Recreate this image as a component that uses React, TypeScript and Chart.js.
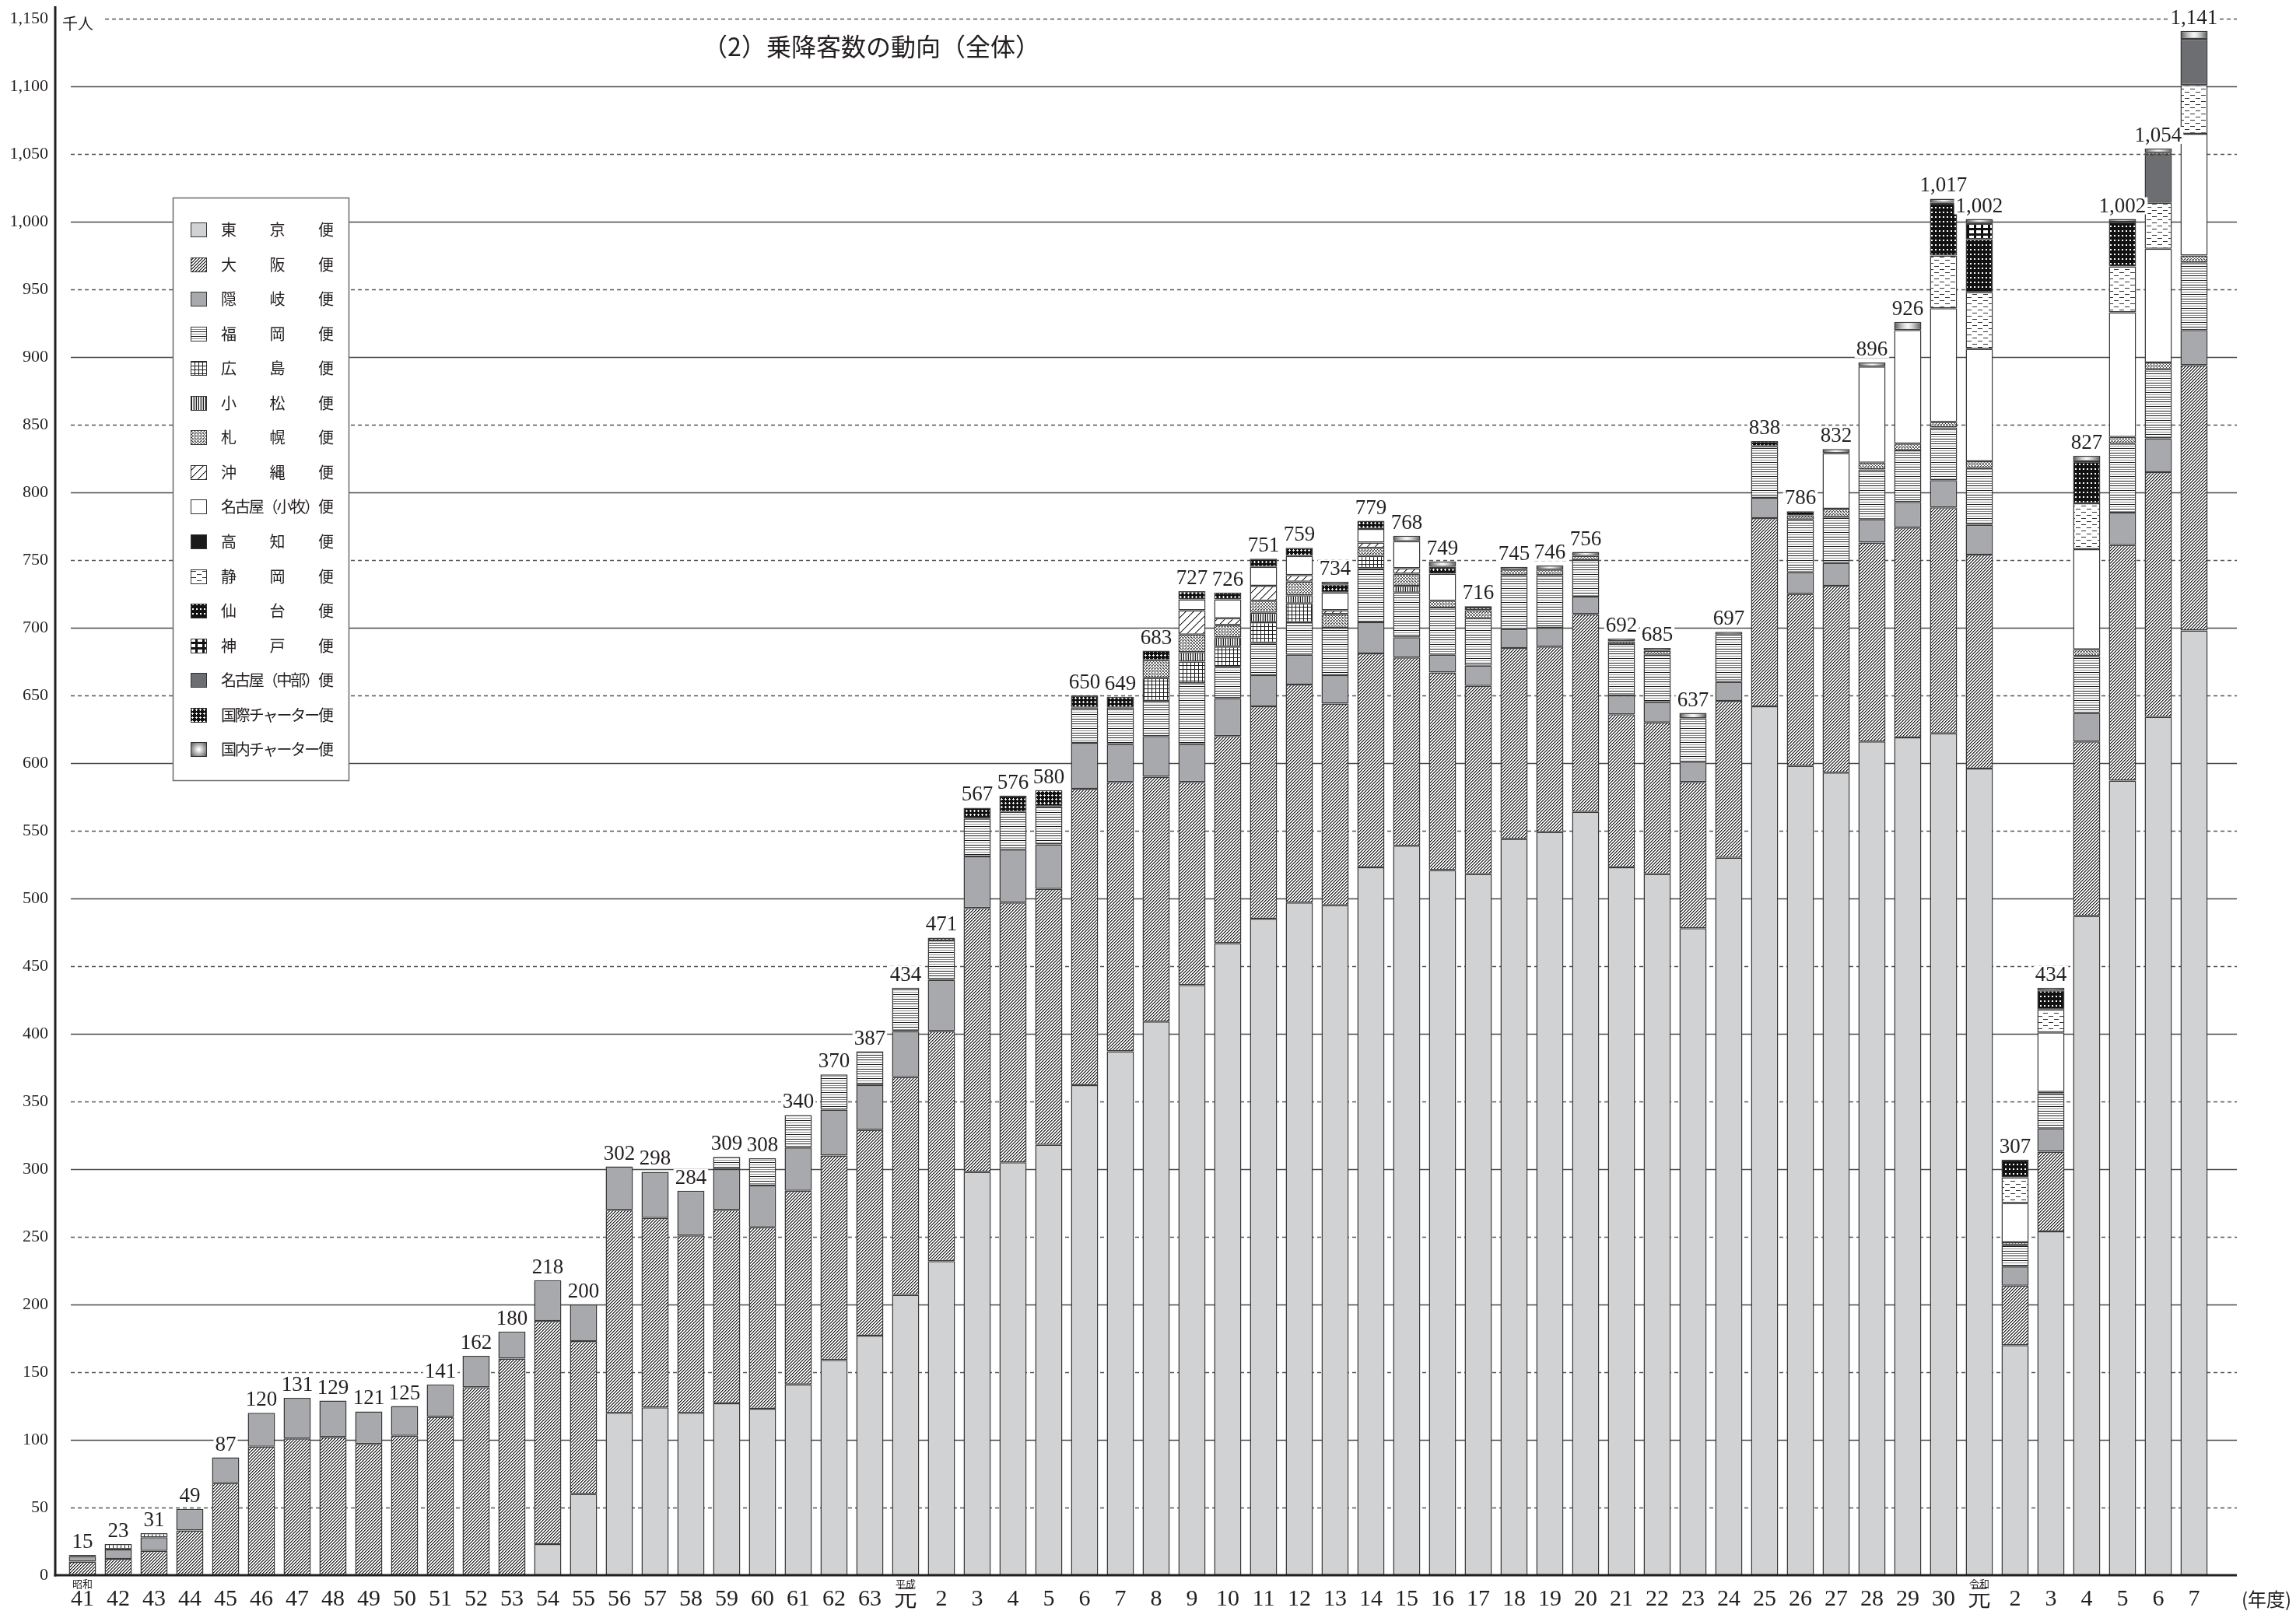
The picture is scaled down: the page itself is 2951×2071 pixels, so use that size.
import React, { useEffect, useRef } from 'react';
import { Chart, registerables } from 'chart.js';

Chart.register(...registerables);

// ---------------- data ----------------
// fiscal years: 昭和41–63, 平成元–30, 令和元–7
const categories: string[] = [
  '41', '42', '43', '44', '45', '46', '47', '48', '49', '50', '51', '52', '53', '54', '55', '56', '57', '58', '59', '60', '61', '62', '63',
  '元', '2', '3', '4', '5', '6', '7', '8', '9', '10', '11', '12', '13', '14', '15', '16', '17', '18', '19', '20', '21', '22', '23', '24', '25', '26', '27', '28', '29', '30',
  '元', '2', '3', '4', '5', '6', '7',
];
const eraMarks = [
  { index: 0, text: '昭和' },
  { index: 23, text: '平成' },
  { index: 53, text: '令和' },
];
const totals = [
  15, 23, 31, 49, 87, 120, 131, 129, 121, 125, 141, 162, 180, 218, 200, 302, 298, 284, 309, 308, 340, 370, 387,
  434, 471, 567, 576, 580, 650, 649, 683, 727, 726, 751, 759, 734, 779, 768, 749, 716, 745, 746, 756, 692, 685, 637, 697, 838, 786, 832, 896, 926, 1017,
  1002, 307, 434, 827, 1002, 1054, 1141,
];
const seriesNames = [
  '東京便', '大阪便', '隠岐便', '福岡便', '広島便', '小松便', '札幌便', '沖縄便',
  '名古屋（小牧）便', '高知便', '静岡便', '仙台便', '神戸便', '名古屋（中部）便', '国際チャーター便', '国内チャーター便',
];
const tokyo = [
  0, 0, 0, 0, 0, 0, 0, 0, 0, 0, 0, 0, 0, 23, 60, 120, 124, 120, 127, 123, 141, 159, 177,
  207, 232, 298, 305, 318, 362, 387, 409, 436, 467, 485, 497, 495, 523, 539, 521, 518, 544, 549, 564, 523, 518, 478, 530, 642, 598, 593, 616, 619, 622,
  596, 170, 254, 487, 587, 634, 698,
];
const osaka = [
  10, 12, 18, 33, 68, 95, 101, 102, 97, 103, 117, 139, 160, 165, 113, 150, 140, 131, 143, 134, 143, 151, 152,
  161, 170, 195, 192, 189, 219, 199, 181, 150, 153, 157, 161, 149, 158, 139, 146, 139, 141, 137, 146, 113, 112, 108, 116, 139, 127, 138, 147, 155, 167,
  158, 44, 59, 129, 174, 181, 196,
];
const oki = [
  4, 7, 10, 16, 19, 25, 30, 27, 24, 22, 24, 23, 20, 30, 27, 32, 34, 33, 30, 31, 32, 34, 33,
  34, 38, 38, 39, 33, 34, 28, 30, 28, 28, 23, 22, 21, 23, 15, 13, 15, 14, 14, 13, 14, 15, 15, 14, 15, 16, 17, 17, 19, 20,
  22, 14, 17, 21, 24, 25, 26,
];
const fukuoka = [
  0, 0, 0, 0, 0, 0, 0, 0, 0, 0, 0, 0, 0, 0, 0, 0, 0, 0, 9, 20, 24, 26, 25,
  32, 29, 28, 28, 28, 26, 27, 26, 45, 23, 24, 24, 35, 40, 33, 35, 35, 40, 39, 27, 38, 35, 32, 35, 38, 39, 34, 37, 38, 39,
  42, 16, 26, 42, 51, 51, 50,
];
const hiroshima = [
  1, 4, 3, 0, 0, 0, 0, 0, 0, 0, 0, 0, 0, 0, 0, 0, 0, 0, 0, 0, 0, 0, 0,
  0, 0, 0, 0, 0, 0, 0, 17, 16, 15, 15, 14, 0, 9, 0, 0, 0, 0, 0, 0, 0, 0, 0, 0, 0, 0, 0, 0, 0, 0,
  0, 0, 0, 0, 0, 0, 0,
];
const komatsu = [
  0, 0, 0, 0, 0, 0, 0, 0, 0, 0, 0, 0, 0, 0, 0, 0, 0, 0, 0, 0, 0, 0, 0,
  0, 0, 0, 0, 0, 0, 0, 0, 7, 7, 7, 6, 0, 0, 5, 0, 0, 0, 0, 0, 0, 0, 0, 0, 0, 0, 0, 0, 0, 0,
  0, 0, 0, 0, 0, 0, 0,
];
const sapporo = [
  0, 0, 0, 0, 0, 0, 0, 0, 0, 0, 0, 0, 0, 0, 0, 0, 0, 0, 0, 0, 0, 0, 0,
  0, 0, 0, 0, 0, 0, 0, 13, 13, 9, 9, 10, 10, 6, 9, 5, 6, 4, 4, 3, 2, 3, 0, 0, 0, 3, 6, 5, 5, 4,
  5, 2, 1, 5, 5, 5, 5,
];
const okinawa = [
  0, 0, 0, 0, 0, 0, 0, 0, 0, 0, 0, 0, 0, 0, 0, 0, 0, 0, 0, 0, 0, 0, 0,
  0, 0, 0, 0, 0, 0, 0, 0, 18, 5, 11, 5, 3, 4, 4, 0, 0, 0, 0, 0, 0, 0, 0, 0, 0, 0, 0, 0, 0, 0,
  0, 0, 0, 0, 0, 0, 0,
];
const nagoyaKomaki = [
  0, 0, 0, 0, 0, 0, 0, 0, 0, 0, 0, 0, 0, 0, 0, 0, 0, 0, 0, 0, 0, 0, 0,
  0, 0, 0, 0, 0, 0, 0, 0, 8, 14, 14, 14, 13, 10, 20, 20, 0, 0, 0, 0, 0, 0, 0, 0, 0, 0, 41, 71, 84, 84,
  83, 29, 44, 74, 92, 84, 90,
];
const kochi = [
  0, 0, 0, 0, 0, 0, 0, 0, 0, 0, 0, 0, 0, 0, 0, 0, 0, 0, 0, 0, 0, 0, 0,
  0, 0, 0, 0, 0, 0, 0, 0, 0, 0, 0, 0, 0, 0, 0, 0, 0, 0, 0, 0, 0, 0, 0, 0, 0, 0, 0, 0, 0, 0,
  0, 0, 0, 0, 0, 0, 0,
];
const shizuoka = [
  0, 0, 0, 0, 0, 0, 0, 0, 0, 0, 0, 0, 0, 0, 0, 0, 0, 0, 0, 0, 0, 0, 0,
  0, 0, 0, 0, 0, 0, 0, 0, 0, 0, 0, 0, 0, 0, 0, 0, 0, 0, 0, 0, 0, 0, 0, 0, 0, 0, 0, 0, 0, 39,
  42, 19, 17, 34, 34, 34, 36,
];
const sendai = [
  0, 0, 0, 0, 0, 0, 0, 0, 0, 0, 0, 0, 0, 0, 0, 0, 0, 0, 0, 0, 0, 0, 0,
  0, 0, 0, 0, 0, 0, 0, 0, 0, 0, 0, 0, 0, 0, 0, 0, 0, 0, 0, 0, 0, 0, 0, 0, 0, 0, 0, 0, 0, 39,
  39, 13, 14, 31, 33, 0, 0,
];
const kobe = [
  0, 0, 0, 0, 0, 0, 0, 0, 0, 0, 0, 0, 0, 0, 0, 0, 0, 0, 0, 0, 0, 0, 0,
  0, 0, 0, 0, 0, 0, 0, 0, 0, 0, 0, 0, 0, 0, 0, 0, 0, 0, 0, 0, 0, 0, 0, 0, 0, 0, 0, 0, 0, 0,
  12, 0, 0, 0, 0, 0, 0,
];
const nagoyaChubu = [
  0, 0, 0, 0, 0, 0, 0, 0, 0, 0, 0, 0, 0, 0, 0, 0, 0, 0, 0, 0, 0, 0, 0,
  0, 0, 0, 0, 0, 0, 0, 0, 0, 0, 0, 0, 0, 0, 0, 0, 0, 0, 0, 0, 0, 0, 0, 0, 0, 0, 0, 0, 0, 0,
  0, 0, 0, 0, 0, 35, 34,
];
const intlCharter = [
  0, 0, 0, 0, 0, 0, 0, 0, 0, 0, 0, 0, 0, 0, 0, 0, 0, 0, 0, 0, 0, 0, 0,
  0, 2, 8, 12, 12, 9, 8, 7, 6, 5, 6, 6, 6, 6, 0, 5, 2, 0, 0, 0, 0, 0, 0, 0, 4, 3, 0, 0, 0, 0,
  0, 0, 0, 0, 0, 2, 0,
];
const domCharter = [
  0, 0, 0, 0, 0, 0, 0, 0, 0, 0, 0, 0, 0, 0, 0, 0, 0, 0, 0, 0, 0, 0, 0,
  0, 0, 0, 0, 0, 0, 0, 0, 0, 0, 0, 0, 2, 0, 4, 4, 1, 2, 3, 3, 2, 2, 4, 2, 0, 0, 3, 3, 6, 3,
  3, 0, 2, 4, 2, 3, 6,
];
const seriesData = [
  tokyo, osaka, oki, fukuoka, hiroshima, komatsu, sapporo, okinawa,
  nagoyaKomaki, kochi, shizuoka, sendai, kobe, nagoyaChubu, intlCharter, domCharter,
];

const Y_MAX = 1150;
const Y_STEP = 50;
const X_MIN = -0.76;
const X_MAX = 60.1965;

// ---------------- layout / style ----------------
const W = 2951;
const H = 2071;
const PLOT_LEFT = 71;
const PLOT_RIGHT = 2875;
const PLOT_TOP = 24;
const PLOT_BOTTOM = 2025;
const INK = '#231f20';
const NUM_FONT = "'Liberation Serif', 'DejaVu Serif', serif";
const JP_FONT = "'Noto Sans CJK JP', 'Noto Sans', sans-serif";

function tile(w: number, h: number, draw: (g: CanvasRenderingContext2D) => void): HTMLCanvasElement {
  const c = document.createElement('canvas');
  c.width = w;
  c.height = h;
  const g = c.getContext('2d') as CanvasRenderingContext2D;
  draw(g);
  return c;
}

function buildFills(ctx: CanvasRenderingContext2D): (string | CanvasPattern)[] {
  const pat = (c: HTMLCanvasElement) => ctx.createPattern(c, 'repeat') as CanvasPattern;
  const dark = '#1c1c1c';
  const osakaT = tile(4, 4, (g) => {
    g.fillStyle = '#fff'; g.fillRect(0, 0, 4, 4);
    for (let x = 0; x < 4; x++) for (let y = 0; y < 4; y++) {
      const s = (x + y) % 4;
      if (s === 3) { g.fillStyle = dark; g.fillRect(x, y, 1, 1); }
      else if (s === 0) { g.fillStyle = '#7a7a7a'; g.fillRect(x, y, 1, 1); }
    }
  });
  const fukuokaT = tile(1, 6, (g) => {
    g.fillStyle = '#fff'; g.fillRect(0, 0, 1, 6);
    g.fillStyle = dark; g.fillRect(0, 0, 1, 1);
    g.fillStyle = '#8c8c8c'; g.fillRect(0, 3, 1, 1);
  });
  const hiroshimaT = tile(5, 5, (g) => {
    g.fillStyle = '#fff'; g.fillRect(0, 0, 5, 5);
    g.fillStyle = dark; g.fillRect(0, 0, 5, 1); g.fillRect(0, 0, 1, 5);
  });
  const komatsuT = tile(3, 1, (g) => {
    g.fillStyle = '#fff'; g.fillRect(0, 0, 3, 1);
    g.fillStyle = dark; g.fillRect(0, 0, 1, 1);
    g.fillStyle = '#b0b0b0'; g.fillRect(2, 0, 1, 1);
  });
  const sapporoT = tile(4, 4, (g) => {
    g.fillStyle = '#fff'; g.fillRect(0, 0, 4, 4);
    g.fillStyle = '#2a2a2a';
    for (let x = 0; x < 4; x++) for (let y = 0; y < 4; y++) {
      if ((x + y) % 4 === 0 || (x - y + 4) % 4 === 0) g.fillRect(x, y, 1, 1);
    }
  });
  const okinawaT = tile(10, 10, (g) => {
    g.fillStyle = '#fff'; g.fillRect(0, 0, 10, 10);
    for (let x = 0; x < 10; x++) for (let y = 0; y < 10; y++) {
      const s = (x + y) % 10;
      if (s === 9) { g.fillStyle = dark; g.fillRect(x, y, 1, 1); }
      else if (s === 0) { g.fillStyle = '#9a9a9a'; g.fillRect(x, y, 1, 1); }
    }
  });
  const shizuokaT = tile(14, 8, (g) => {
    g.fillStyle = '#fff'; g.fillRect(0, 0, 14, 8);
    g.fillStyle = '#333'; g.fillRect(1, 2, 6, 1); g.fillRect(8, 6, 6, 1);
  });
  const sendaiT = tile(5, 6, (g) => {
    g.fillStyle = '#111'; g.fillRect(0, 0, 5, 6);
    g.fillStyle = '#fff'; g.fillRect(2, 2, 2, 2);
  });
  const kobeT = tile(9, 7, (g) => {
    g.fillStyle = '#111'; g.fillRect(0, 0, 9, 7);
    g.fillStyle = '#fff'; g.fillRect(2, 2, 6, 4);
  });
  const intlT = tile(5, 5, (g) => {
    g.fillStyle = '#111'; g.fillRect(0, 0, 5, 5);
    g.fillStyle = '#fff';
    g.fillRect(2, 1, 1, 3); g.fillRect(1, 2, 3, 1);
  });
  // cylinder-like shading across each bar (period = one category width)
  const period = Math.round((PLOT_RIGHT - PLOT_LEFT) / (X_MAX - X_MIN));
  const c0 = (PLOT_LEFT + (0 - X_MIN) * ((PLOT_RIGHT - PLOT_LEFT) / (X_MAX - X_MIN))) % period;
  const domT = tile(period, 1, (g) => {
    for (let x = 0; x < period; x++) {
      let d = Math.abs(x + 0.5 - c0);
      d = Math.min(d, period - d);
      const t = Math.min(1, d / 17.5);
      const v = Math.round(245 - 165 * Math.pow(t, 1.4));
      g.fillStyle = `rgb(${v},${v},${v})`;
      g.fillRect(x, 0, 1, 1);
    }
  });
  return [
    '#d1d2d4', pat(osakaT), '#a7a9ac', pat(fukuokaT), pat(hiroshimaT), pat(komatsuT), pat(sapporoT), pat(okinawaT),
    '#ffffff', '#1a1a1a', pat(shizuokaT), pat(sendaiT), pat(kobeT), '#6d6e71', pat(intlT), pat(domT),
  ];
}

function makeDecor(fills: (string | CanvasPattern)[]) {
  return {
    id: 'decor',
    beforeDatasetsDraw(chart: any) {
      const { ctx, chartArea } = chart;
      const ys = chart.scales.y;
      ctx.save();
      for (let v = Y_STEP; v <= Y_MAX; v += Y_STEP) {
        const y = Math.round(ys.getPixelForValue(v)) + 0.5;
        const major = v % 100 === 0;
        ctx.beginPath();
        ctx.setLineDash(major ? [] : [5, 4]);
        ctx.strokeStyle = major ? '#4a4a4a' : '#555';
        ctx.lineWidth = major ? 1.6 : 1.4;
        ctx.moveTo(v === Y_MAX ? 135 : 91, y);
        ctx.lineTo(chartArea.right, y);
        ctx.stroke();
      }
      ctx.restore();
    },
    afterDatasetsDraw(chart: any) {
      const { ctx, chartArea } = chart;
      const xs = chart.scales.x;
      const ys = chart.scales.y;
      ctx.save();
      // axes
      ctx.fillStyle = INK;
      ctx.fillRect(chartArea.left - 1.5, 8, 3, chartArea.bottom - 8 + 1.5);
      ctx.fillRect(chartArea.left - 1.5, chartArea.bottom - 1.5, chartArea.right - chartArea.left + 1.5, 3);

      // total labels
      ctx.font = `27px ${NUM_FONT}`;
      ctx.textAlign = 'center';
      ctx.textBaseline = 'alphabetic';
      totals.forEach((t, i) => {
        const text = t.toLocaleString('en-US');
        const x = xs.getPixelForValue(i);
        const base = ys.getPixelForValue(t) - 9;
        const w = ctx.measureText(text).width;
        ctx.fillStyle = '#fff';
        ctx.fillRect(x - w / 2 - 2, base - 19, w + 4, 22);
        ctx.fillStyle = INK;
        ctx.fillText(text, x, base);
      });

      // legend box
      const LX = 222, LY = 254, LW = 226, LH = 749;
      ctx.fillStyle = '#fff';
      ctx.fillRect(LX, LY, LW, LH);
      ctx.strokeStyle = '#6a6a6a';
      ctx.lineWidth = 1.5;
      ctx.strokeRect(LX + 0.5, LY + 0.5, LW, LH);
      const row0 = 295.5, step = 44.55, swX = 245, swW = 21, swH = 19, tx = 284, tw = 145;
      ctx.font = `20px ${JP_FONT}`;
      ctx.textAlign = 'left';
      ctx.textBaseline = 'middle';
      seriesNames.forEach((name, k) => {
        const cy = row0 + k * step;
        const sy = Math.round(cy - swH / 2);
        if (k === seriesNames.length - 1) {
          const g = ctx.createRadialGradient(swX + swW / 2, sy + swH / 2, 1, swX + swW / 2, sy + swH / 2, 13);
          g.addColorStop(0, '#ffffff');
          g.addColorStop(1, '#555555');
          ctx.fillStyle = g;
        } else {
          ctx.fillStyle = fills[k];
        }
        ctx.fillRect(swX, sy, swW, swH);
        ctx.strokeStyle = '#333';
        ctx.lineWidth = 1;
        ctx.strokeRect(swX + 0.5, sy + 0.5, swW - 1, swH - 1);
        const chars = Array.from(name);
        const widths = chars.map((c) => ctx.measureText(c).width);
        const sum = widths.reduce((a, b) => a + b, 0);
        const gap = chars.length > 1 ? (tw - sum) / (chars.length - 1) : 0;
        let x = tx;
        ctx.fillStyle = INK;
        chars.forEach((c, j) => {
          ctx.fillText(c, x, cy);
          x += widths[j] + gap;
        });
      });
      ctx.restore();
    },
    afterDraw(chart: any) {
      const { ctx, chartArea } = chart;
      const xs = chart.scales.x;
      ctx.save();
      ctx.fillStyle = INK;
      ctx.textBaseline = 'middle';
      // title
      ctx.font = `32px ${JP_FONT}`;
      ctx.textAlign = 'center';
      ctx.fillText('（2）乗降客数の動向（全体）', 1120, 60);
      // unit
      ctx.font = `20px ${JP_FONT}`;
      ctx.textAlign = 'left';
      ctx.fillText('千人', 80, 30);
      // year unit
      ctx.font = `24px ${JP_FONT}`;
      ctx.fillText('(年度)', 2881, 2056);
      // era marks above tick labels
      ctx.font = `13px ${JP_FONT}`;
      ctx.textAlign = 'center';
      eraMarks.forEach((m) => {
        ctx.fillText(m.text, xs.getPixelForValue(m.index), chartArea.bottom + 11);
      });
      ctx.restore();
    },
  };
}

export default function App() {
  const ref = useRef<HTMLCanvasElement>(null);
  useEffect(() => {
    const canvas = ref.current as HTMLCanvasElement;
    const ctx = canvas.getContext('2d') as CanvasRenderingContext2D;
    const fills = buildFills(ctx);
    const datasets = seriesNames.map((name, k) => ({
      label: name,
      data: seriesData[k].map((v) => (v === 0 ? null : v)),
      backgroundColor: fills[k] as any,
      borderColor: '#3a3a3a',
      borderWidth: 1.5,
      borderSkipped: false as any,
      categoryPercentage: 1,
      barPercentage: 0.76,
    }));
    const chart = new Chart(ctx, {
      type: 'bar',
      data: { labels: categories.map((_, i) => i), datasets },
      options: {
        responsive: false,
        animation: false,
        devicePixelRatio: 1,
        events: [],
        layout: { padding: { top: PLOT_TOP, right: W - PLOT_RIGHT, bottom: 0, left: 0 } },
        plugins: { legend: { display: false }, tooltip: { enabled: false }, title: { display: false } },
        scales: {
          x: {
            type: 'linear',
            min: X_MIN,
            max: X_MAX,
            stacked: true,
            offset: false,
            grid: { display: false, drawTicks: false },
            border: { display: false },
            ticks: {
              stepSize: 1,
              autoSkip: false,
              includeBounds: false,
              maxRotation: 0,
              minRotation: 0,
              padding: 13,
              color: INK,
              font: { family: NUM_FONT, size: 30 },
              callback: (v: any) => (Number.isInteger(v) && categories[v] !== undefined ? categories[v] : ''),
            },
            afterFit: (s: any) => { s.height = H - PLOT_BOTTOM; },
          } as any,
          y: {
            type: 'linear',
            min: 0,
            max: Y_MAX,
            stacked: true,
            grid: { display: false, drawTicks: false },
            border: { display: false },
            ticks: {
              stepSize: Y_STEP,
              padding: 9,
              color: INK,
              font: { family: NUM_FONT, size: 22 },
            },
            afterFit: (s: any) => { s.width = PLOT_LEFT; },
          } as any,
        },
      },
      plugins: [makeDecor(fills)],
    });
    return () => chart.destroy();
  }, []);
  return (
    <div style={{ position: 'absolute', left: 0, top: 0, width: W, height: H, background: '#fff' }}>
      <canvas ref={ref} width={W} height={H} style={{ display: 'block', width: W, height: H }} />
    </div>
  );
}
